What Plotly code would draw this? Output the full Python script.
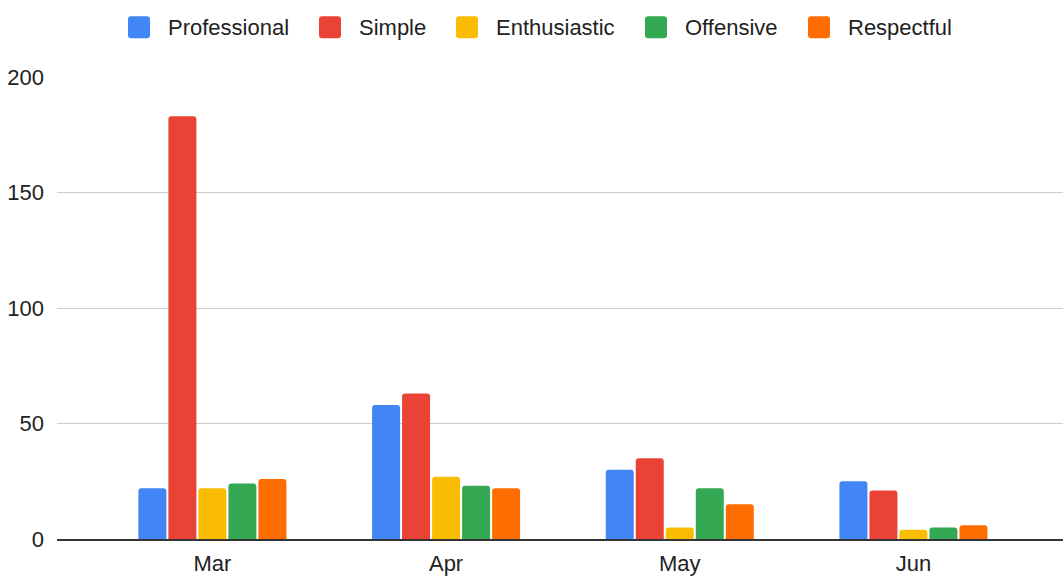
import plotly.graph_objects as go

# Monthly counts per tone category
months = ["Mar", "Apr", "May", "Jun"]
professional = [22, 58, 30, 25]
simple = [183, 63, 35, 21]
enthusiastic = [22, 27, 5, 4]
offensive = [24, 23, 22, 5]
respectful = [26, 22, 15, 6]

series_names = ["Professional", "Simple", "Enthusiastic", "Offensive", "Respectful"]
series_values = [professional, simple, enthusiastic, offensive, respectful]
colors = ["#4285F4", "#EA4335", "#FBBC04", "#34A853", "#FF6D01"]
y_ticks = [0, 50, 100, 150, 200]

W, H = 1063, 576
ML, MR, MT, MB = 57, 0, 77, 35
PW, PH = W - ML - MR, H - MT - MB
FONT = "Liberation Sans, Arial, sans-serif"
TEXT_COLOR = "#222222"

fig = go.Figure()
for name, vals, col in zip(series_names, series_values, colors):
    fig.add_trace(go.Bar(
        x=months, y=vals, name=name,
        marker=dict(color=col, line=dict(width=0), cornerradius=3),
        showlegend=False,
    ))


def px_to_paper_x(px):
    return (px - ML) / PW


def px_to_paper_y(py):
    return (H - MB - py) / PH


def rounded_rect(x0, y0, x1, y1, r):
    # path in paper coordinates for a rectangle with rounded corners (r in px)
    rx, ry = r / PW, r / PH
    X0, X1 = px_to_paper_x(x0), px_to_paper_x(x1)
    Y0, Y1 = px_to_paper_y(y1), px_to_paper_y(y0)  # bottom, top
    return (f"M {X0 + rx},{Y0} L {X1 - rx},{Y0} Q {X1},{Y0} {X1},{Y0 + ry} "
            f"L {X1},{Y1 - ry} Q {X1},{Y1} {X1 - rx},{Y1} "
            f"L {X0 + rx},{Y1} Q {X0},{Y1} {X0},{Y1 - ry} "
            f"L {X0},{Y0 + ry} Q {X0},{Y0} {X0 + rx},{Y0} Z")


# Legend across the top: swatch then label for each series
legend_left = [128, 319, 456, 645, 808]
swatch = 22
legend_top = 16
shapes, annotations = [], []
for name, col, lx in zip(series_names, colors, legend_left):
    shapes.append(dict(
        type="path", xref="paper", yref="paper",
        path=rounded_rect(lx, legend_top, lx + swatch, legend_top + swatch, 3),
        fillcolor=col, line=dict(width=0), layer="above",
    ))
    annotations.append(dict(
        xref="paper", yref="paper",
        x=px_to_paper_x(lx + swatch + 16), y=px_to_paper_y(legend_top + swatch / 2),
        xanchor="left", yanchor="middle", showarrow=False,
        text=name, font=dict(family=FONT, size=22, color=TEXT_COLOR),
    ))

fig.update_layout(
    width=W, height=H,
    margin=dict(l=ML, r=MR, t=MT, b=MB, pad=0),
    paper_bgcolor="white", plot_bgcolor="white",
    barmode="group", bargap=0.358, bargroupgap=0.067,
    font=dict(family=FONT, size=22, color=TEXT_COLOR),
    shapes=shapes, annotations=annotations,
    showlegend=False,
)
fig.update_xaxes(
    range=[-0.665, 3.64], showgrid=False,
    showline=True, linecolor="#333333", linewidth=2,
    ticks="", ticklabelstandoff=4,
    tickfont=dict(family=FONT, size=22, color=TEXT_COLOR),
)
fig.update_yaxes(
    range=[0, 200], tickvals=y_ticks,
    showgrid=True, gridcolor="#cccccc", gridwidth=1,
    zeroline=False, showline=False, ticks="", ticklabelstandoff=12,
    tickfont=dict(family=FONT, size=22, color=TEXT_COLOR),
)

fig.write_html("out.html")
